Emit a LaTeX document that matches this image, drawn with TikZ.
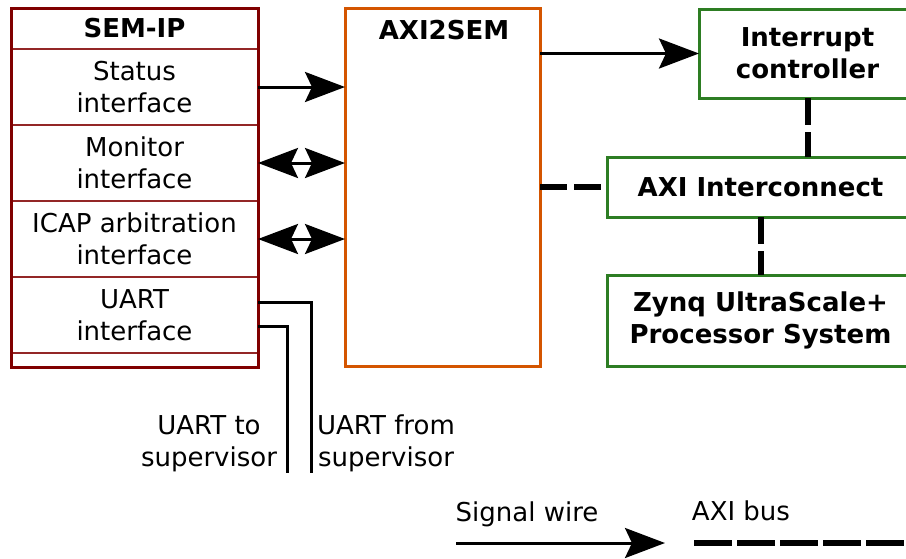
\documentclass[tikz,border=0pt]{standalone}
\usepackage{fontspec}
\setmainfont{DejaVu Sans}
\usetikzlibrary{arrows.meta}
\definecolor{semred}{RGB}{128,0,0}
\definecolor{axiorange}{RGB}{212,85,0}
\definecolor{boxgreen}{RGB}{45,125,35}
\begin{document}
\begin{tikzpicture}[x=1pt,y=-1pt,
  base/.style={font=\fontsize{26}{32}\selectfont, align=center, inner sep=0pt, outer sep=0pt},
  boldbase/.style={base, font=\fontsize{26}{32}\selectfont\bfseries},
  semsec/.style={base, draw=semred!85!white, line width=1.5pt, minimum width=247pt, anchor=north west},
  greenbox/.style={boldbase, draw=boxgreen, line width=3pt, anchor=north west},
  sig/.style={line width=3pt, -{Stealth[length=40pt,width=30pt,inset=7pt]}},
  bisig/.style={line width=3pt, {Stealth[length=40pt,width=30pt,inset=7pt]}-{Stealth[length=40pt,width=30pt,inset=7pt]}},
  axibus/.style={line width=6pt, dash pattern=on 27pt off 7pt},
  wire/.style={line width=3pt}]
\useasboundingbox (0,0) rectangle (906,558);
% SEM-IP sections
\node[semsec, boldbase, minimum height=41pt] (semhead) at (11,8) {SEM-IP};
\node[semsec, minimum height=76pt] (status) at (11,49) {Status\\interface};
\node[semsec, minimum height=76pt] (monitor) at (11,125) {Monitor\\interface};
\node[semsec, minimum height=76pt] (icap) at (11,201) {ICAP arbitration\\interface};
\node[semsec, minimum height=76pt] (uart) at (11,277) {UART\\interface};
\node[draw=semred, line width=3pt, minimum width=247pt, minimum height=359pt, anchor=north west, inner sep=0pt, outer sep=0pt] (sem) at (11,8) {};
% AXI2SEM
\node[draw=axiorange, line width=3pt, minimum width=195pt, minimum height=358pt, anchor=north west, inner sep=0pt, outer sep=0pt] (axi2sem) at (345,8) {};
\node[boldbase] (axi2semlabel) at (444,30) {AXI2SEM};
% green boxes
\node[greenbox, minimum width=217pt, minimum height=89pt] (intc) at (699,9) {Interrupt\\controller};
\node[greenbox, minimum width=307pt, minimum height=60pt] (axi) at (607,157) {AXI Interconnect};
\node[greenbox, minimum width=307pt, minimum height=91pt] (zynq) at (607,275) {Zynq UltraScale+\\Processor System};
% signal connectors
\draw[sig] (status.east) -- (status.east -| axi2sem.west);
\draw[bisig] (monitor.east) -- (monitor.east -| axi2sem.west);
\draw[bisig] (icap.east) -- (icap.east -| axi2sem.west);
\draw[sig] (axi2sem.east |- intc.west) -- (intc.west);
% AXI bus connectors
\draw[axibus] (axi2sem.east |- axi.west) -- (axi.west);
\draw[axibus] (intc.south) -- (intc.south |- axi.north);
\draw[axibus] (axi.south) -- (zynq.north);
% UART wires
\coordinate (fromend) at (311,473);
\coordinate (toend) at (287,473);
\draw[wire] (uart.east |- 0,302) -| (fromend);
\draw[wire] (uart.east |- 0,326) -| (toend);
\node[base] (utolabel) at (209,443.5) {UART to\\supervisor};
\node[base] (ufromlabel) at (386,443.5) {UART from\\supervisor};
% legend
\node[base] (siglabel) at (527,514) {Signal wire};
\coordinate (sigA) at (456,543);
\coordinate (sigB) at (665,543);
\draw[sig] (sigA) -- (sigB);
\node[base] (axilabel) at (741,511) {AXI bus};
\coordinate (busA) at (694,543);
\coordinate (busB) at (910,543);
\draw[line width=6pt, dash pattern=on 38pt off 5pt] (busA) -- (busB);
\end{tikzpicture}
\end{document}
